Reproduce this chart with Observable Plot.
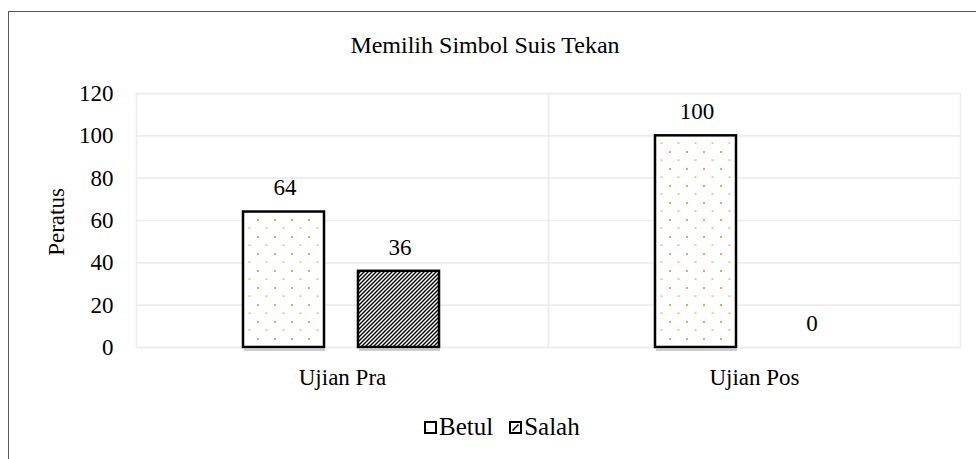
<!DOCTYPE html>
<html>
<head>
<meta charset="utf-8">
<script src="https://cdn.jsdelivr.net/npm/d3@7"></script>
<script src="https://cdn.jsdelivr.net/npm/@observablehq/plot@0.6"></script>
<style>
  html, body { margin: 0; padding: 0; background: #fff; }
  body { width: 976px; height: 459px; overflow: hidden; position: relative;
         font-family: "Liberation Serif", "Times New Roman", Times, serif; color: #000; }
  #frame { position: absolute; left: 8px; top: 11px; width: 1000px; height: 500px;
           border: 1px solid #595959; box-sizing: border-box; }
  #title { position: absolute; left: 0; top: 32px; width: 970px; text-align: center;
           font-size: 24px; line-height: 26px; }
  #ylabel { position: absolute; left: 57px; top: 222px; font-size: 23px; line-height: 26px;
            transform: translate(-50%, -50%) rotate(-90deg); white-space: nowrap; }
  #chart { position: absolute; left: 0; top: 80px; }
  #chart svg, #chart svg text { font-family: "Liberation Serif", "Times New Roman", Times, serif !important; }
  #legend { position: absolute; left: 424px; top: 414px; font-size: 25px; line-height: 26px;
            display: flex; align-items: center; white-space: nowrap; }
  #legend .item { display: flex; align-items: center; }
  #legend svg { margin-right: 2px; }
</style>
</head>
<body>
<div id="frame"></div>
<div id="title">Memilih Simbol Suis Tekan</div>
<div id="chart"></div>
<div id="ylabel"></div>
<div id="legend"></div>
<script>
const categories = ["Ujian Pra", "Ujian Pos"];
const seriesNames = ["Betul", "Salah"];
const betulValues = [64, 100];
const salahValues = [36, 0];
const yTicks = [0, 20, 40, 60, 80, 100, 120];
const yLabel = "Peratus";

const data = [];
categories.forEach((c, i) => {
  data.push({cat: c, series: seriesNames[0], value: betulValues[i]});
  data.push({cat: c, series: seriesNames[1], value: salahValues[i]});
});
const barData = data.filter(d => d.value > 0);

const fontStack = "'Liberation Serif', 'Times New Roman', Times, serif";

const plot = Plot.plot({
  width: 976,
  height: 320,
  marginLeft: 135,
  marginRight: 16,
  marginTop: 13,
  marginBottom: 53,
  style: {fontFamily: fontStack, fontSize: "23px", color: "#000", background: "transparent", overflow: "visible"},
  fx: {domain: categories, padding: 0, axis: "bottom", label: null, tickSize: 0, tickPadding: 21},
  x: {domain: seriesNames, paddingInner: 0.293, paddingOuter: 0.924, axis: null},
  y: {domain: [0, 120], ticks: yTicks, tickSize: 0, tickPadding: 23, label: null},
  color: {domain: seriesNames, range: ["url(#patDots)", "url(#patHatch)"]},
  facet: {data: data, x: "cat"},
  marks: [
    Plot.ruleY(yTicks, {stroke: "#ededed", strokeWidth: 1.6}),
    Plot.frame({stroke: "#ededed", strokeWidth: 1.6}),
    Plot.tickY(barData, {fx: "cat", x: "series", y: d => 0, dy: 2.5, stroke: "#bdbdbd", strokeWidth: 1.6}),
    Plot.barY(barData, {fx: "cat", x: "series", y: "value", fill: "series", stroke: "#000", strokeWidth: 2.5, dx: -1}),
    Plot.text(data, {fx: "cat", x: "series", y: "value", text: d => String(d.value),
      dy: -24, lineAnchor: "middle", fontSize: 23, fill: "#000"})
  ]
});

const svgNS = "http://www.w3.org/2000/svg";
const defs = document.createElementNS(svgNS, "defs");
defs.innerHTML = `
  <pattern id="patDots" patternUnits="userSpaceOnUse" width="17" height="17" x="2" y="3">
    <rect width="17" height="17" fill="#ffffff"/>
    <rect x="0" y="0" width="2" height="2" fill="#f5a25f"/>
    <rect x="8.5" y="8.5" width="2" height="1.2" fill="#f5a25f"/>
  </pattern>
  <pattern id="patHatch" patternUnits="userSpaceOnUse" width="4" height="4">
    <rect width="4" height="4" fill="#ffffff"/>
    <path d="M-1,1 L1,-1 M0,4 L4,0 M3,5 L5,3" stroke="#000" stroke-width="1.4"/>
  </pattern>`;
plot.insertBefore(defs, plot.firstChild);
document.getElementById("chart").appendChild(plot);
document.getElementById("ylabel").textContent = yLabel;

// legend
const legend = document.getElementById("legend");
const swatches = {
  Betul: `<svg width="13" height="13" viewBox="0 0 13 13"><rect x="1" y="1" width="11" height="11" fill="#fff" stroke="#000" stroke-width="2"/><rect x="2.5" y="8.5" width="2" height="1" fill="#f5a25f"/></svg>`,
  Salah: `<svg width="13" height="13" viewBox="0 0 13 13"><rect x="1" y="1" width="11" height="11" fill="#fff" stroke="#000" stroke-width="2"/><path d="M3.5,9.5 L9.5,3.5" stroke="#000" stroke-width="1.6"/></svg>`
};
seriesNames.forEach((s, i) => {
  const item = document.createElement("span");
  item.className = "item";
  if (i > 0) item.style.marginLeft = "16px";
  item.innerHTML = swatches[s] + `<span>${s}</span>`;
  legend.appendChild(item);
});
</script>
</body>
</html>
